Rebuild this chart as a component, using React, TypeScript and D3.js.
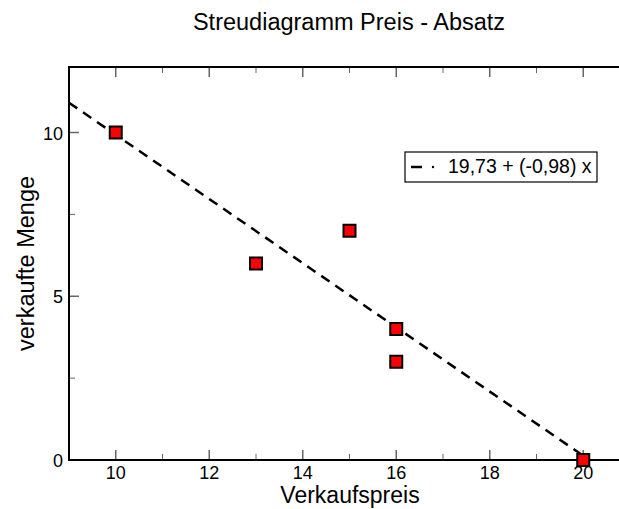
import React from "react";
import * as d3 from "d3";

const preise = [10, 13, 15, 16, 16, 20];
const mengen = [10, 6, 7, 4, 3, 0];
const xTicks = [10, 12, 14, 16, 18, 20];
const xMinor = [9, 11, 13, 15, 17, 19, 21];
const yTicks = [0, 5, 10];
const yMinor = [2.5, 7.5];
const intercept = 19.73;
const slope = -0.98;
const legendLabel = "19,73 + (-0,98) x";
const title = "Streudiagramm Preis - Absatz";
const xLabel = "Verkaufspreis";
const yLabel = "verkaufte Menge";

const W = 619;
const H = 509;
const L = 69, R = 630, T = 67, B = 460;

export default function App() {
  const x = d3.scaleLinear().domain([9, 21]).range([L, R]);
  const y = d3.scaleLinear().domain([0, 12]).range([B, T]);
  const fit = (v: number) => intercept + slope * v;
  const line = d3.line<number>().x((d) => x(d)).y((d) => y(fit(d)));
  const font = "Liberation Sans, Arial, Helvetica, sans-serif";
  const tickCol = "#666";
  const ms = 12;
  return (
    <svg width={W} height={H} style={{ position: "absolute", left: 0, top: 0, background: "#fff" }} fontFamily={font}>
      <text x={349} y={30} fontSize={23.5} textAnchor="middle">{title}</text>
      {/* ticks */}
      {xTicks.map((t) => (
        <g key={"xt" + t}>
          <line x1={x(t)} x2={x(t)} y1={B} y2={B - 10} stroke={tickCol} strokeWidth={1.5} />
          <line x1={x(t)} x2={x(t)} y1={T} y2={T + 10} stroke={tickCol} strokeWidth={1.5} />
          <text x={x(t)} y={B + 19} fontSize={18} textAnchor="middle">{t}</text>
        </g>
      ))}
      {xMinor.map((t) => (
        <g key={"xm" + t}>
          <line x1={x(t)} x2={x(t)} y1={B} y2={B - 6} stroke={tickCol} strokeWidth={1} />
          <line x1={x(t)} x2={x(t)} y1={T} y2={T + 6} stroke={tickCol} strokeWidth={1} />
        </g>
      ))}
      {yTicks.map((t) => (
        <g key={"yt" + t}>
          <line x1={L} x2={L + 10} y1={y(t)} y2={y(t)} stroke={tickCol} strokeWidth={1.5} />
          <text x={L - 6} y={y(t) + 7} fontSize={18} textAnchor="end">{t}</text>
        </g>
      ))}
      {yMinor.map((t) => (
        <line key={"ym" + t} x1={L} x2={L + 6} y1={y(t)} y2={y(t)} stroke={tickCol} strokeWidth={1} />
      ))}
      {/* frame */}
      <line x1={L} x2={L} y1={T} y2={B} stroke="#000" strokeWidth={2} />
      <line x1={L - 1} x2={R} y1={T} y2={T} stroke="#000" strokeWidth={2} />
      <line x1={L - 1} x2={R} y1={B} y2={B} stroke="#000" strokeWidth={2} />
      {/* regression line */}
      <path d={line([9, 20]) || ""} fill="none" stroke="#000" strokeWidth={2.5} strokeDasharray="10 7" />
      {/* markers */}
      {preise.map((p, i) => (
        <rect key={"m" + i} x={x(p) - ms / 2} y={y(mengen[i]) - ms / 2} width={ms} height={ms} fill="#ff0000" stroke="#000" strokeWidth={2} />
      ))}
      {/* legend */}
      <rect x={405} y={152} width={192} height={30} fill="#fff" stroke="#000" strokeWidth={1.2} />
      <line x1={411} x2={422} y1={167} y2={167} stroke="#000" strokeWidth={2.5} />
      <circle cx={433} cy={167} r={1.2} fill="#000" />
      <text x={448} y={173} fontSize={19.5}>{legendLabel}</text>
      {/* axis labels */}
      <text x={350} y={503} fontSize={23} textAnchor="middle">{xLabel}</text>
      <text transform={`translate(34, ${(T + B) / 2}) rotate(-90)`} fontSize={23.5} textAnchor="middle">{yLabel}</text>
    </svg>
  );
}
